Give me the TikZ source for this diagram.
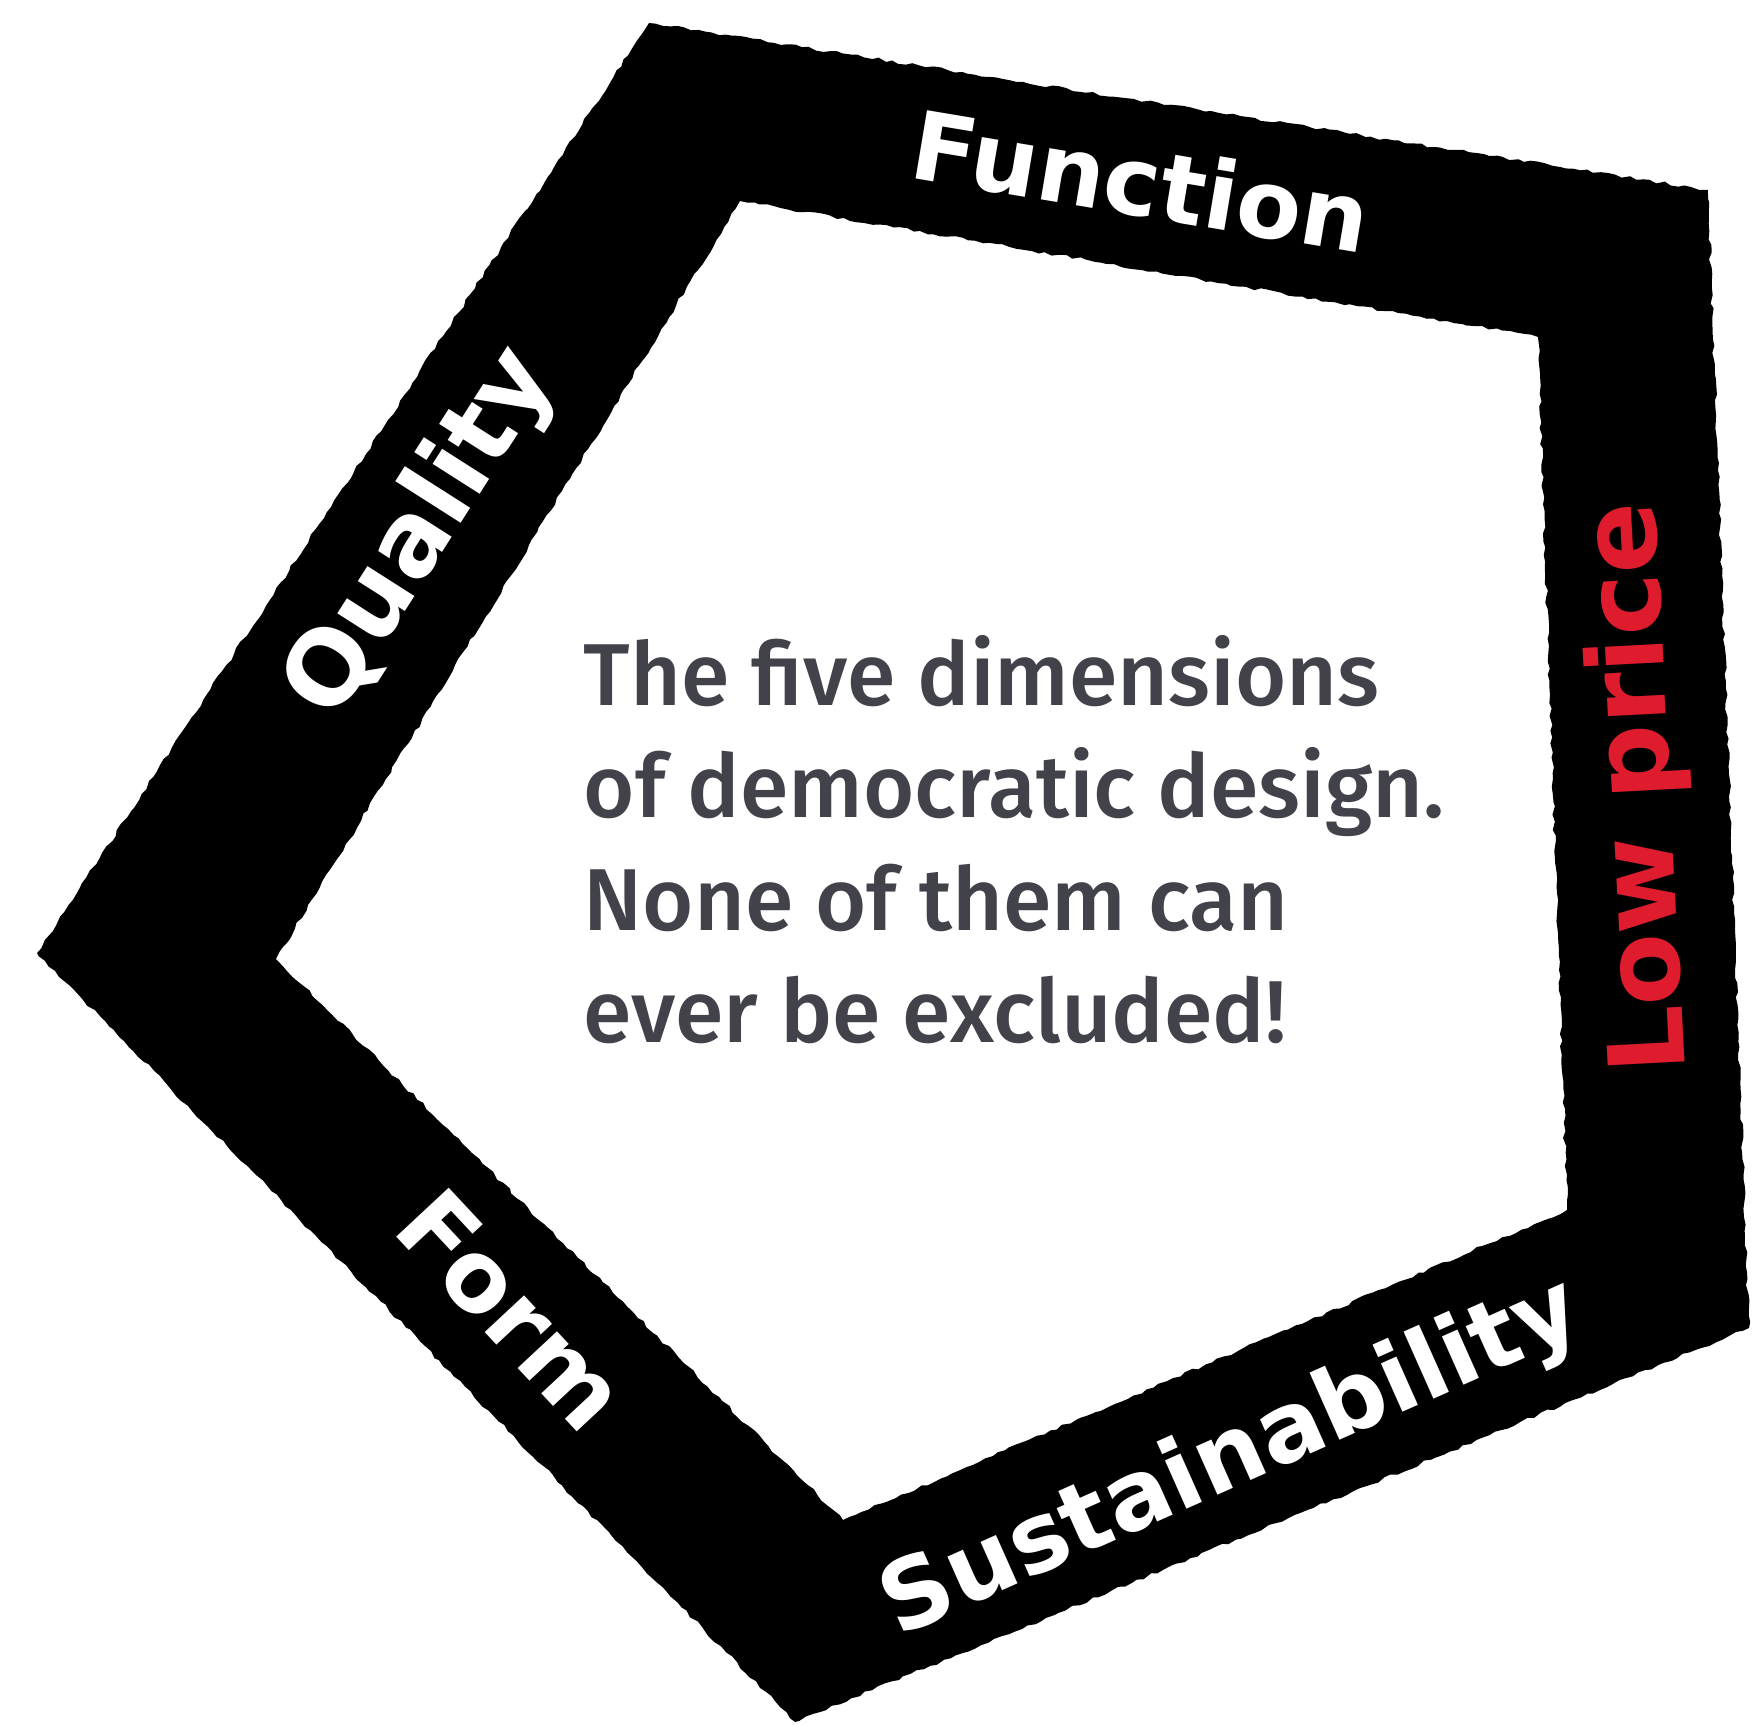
\documentclass[tikz,border=0pt]{standalone}
\usepackage{fontspec}
\newfontfamily\labelfont{DejaVu Sans}
\newfontfamily\notefont{Fira Sans Medium}
\usetikzlibrary{decorations.pathmorphing}
\definecolor{lowred}{RGB}{222,28,46}
\definecolor{notegray}{RGB}{66,66,74}

\begin{document}
\begin{tikzpicture}[x=0.01cm, y=-0.01cm,
    dimlabel/.style={text=white, inner sep=0pt,
        font=\labelfont\bfseries\fontsize{#1}{#1}\selectfont},
    dimlabel/.default=27,
    note/.style={text=notegray, align=left, inner sep=0pt,
        font=\notefont\fontsize{25}{32}\selectfont}]
    \useasboundingbox (0, 0) rectangle (1753, 1725);
    % the rough pentagon band
    \pgfmathsetseed{7}
    \fill[black, even odd rule, decorate,
        decoration={random steps, segment length=2pt, amplitude=0.45pt}]
	(649, 23) -- (1708, 190) -- (1749, 1328) -- (795, 1722) -- (37, 953) -- cycle
	(740, 201) -- (1538, 337) -- (1567, 1210) -- (843, 1520) -- (276, 959) -- cycle;
    \node[dimlabel, rotate=-9.5] (function) at (1141, 181) {Function};
    \node[dimlabel=29, rotate=57.5] (quality) at (422, 534) {Quality};
    \node[dimlabel=30, text=lowred, rotate=93] (lowprice) at (1641, 788) {Low price};
    \node[dimlabel=28, rotate=-47] (form) at (512, 1310) {Form};
    \node[dimlabel=27.5, rotate=24] (sustain) at (1232, 1460) {Sustainability};
    % last line sits on the anchor
    \node[note, anchor=base west] (motto) at (583, 1043)
	{The five dimensions\\of democratic design.\\None of them can\\ever be excluded!};
\end{tikzpicture}
\end{document}
